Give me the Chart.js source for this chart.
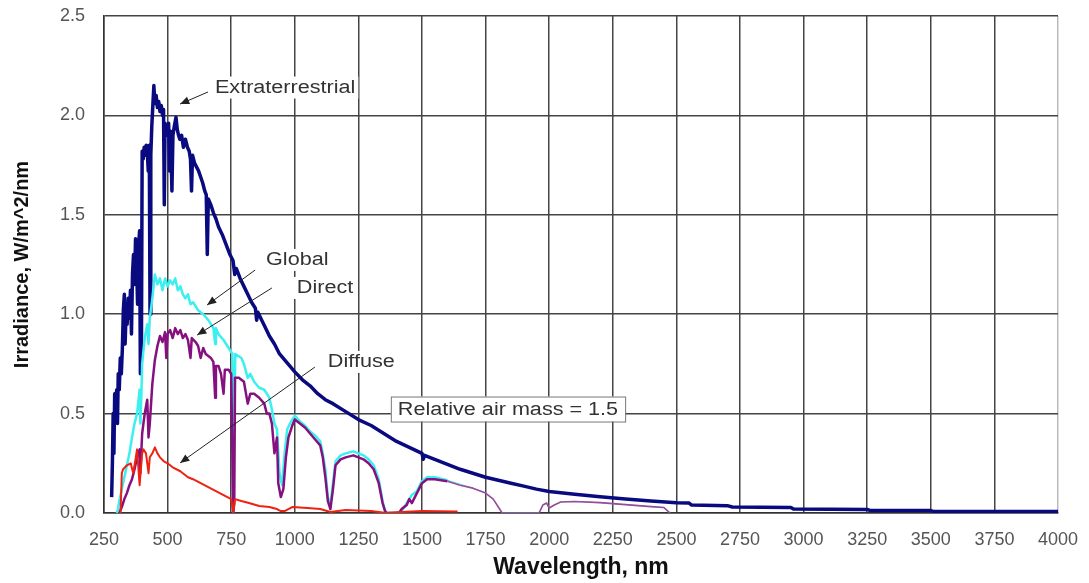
<!DOCTYPE html>
<html>
<head>
<meta charset="utf-8">
<title>Solar spectral irradiance</title>
<script src="https://cdn.jsdelivr.net/npm/chart.js@4.4.0/dist/chart.umd.min.js"></script>
<style>
  html, body { margin: 0; padding: 0; background: #fff; }
</style>
</head>
<body>
<canvas id="spectrumChart" width="1089" height="583"></canvas>
<script>
// [wavelength nm, irradiance W/m^2/nm]
var extraterrestrial = [
    [280,0.08],[283,0.25],[286,0.5],[289,0.3],[292,0.6],[296,0.55],[300,0.62],[303,0.45],[306,0.7],[310,0.62],
    [314,0.78],[318,0.7],[322,0.82],[326,1.02],[330,1.1],[333,0.85],[337,1.02],[341,0.95],[345,1.08],[350,0.98],
    [354,1.12],[358,0.9],[362,1.2],[366,1.3],[370,1.15],[374,1.38],[378,1.25],[382,1.05],[386,1.35],[390,1.42],
    [393,0.7],[396,1.3],[397,0.78],[400,1.82],[404,1.78],[408,1.84],[412,1.8],[416,1.85],[420,1.82],[424,1.72],
    [428,1.85],[431,1.0],[434,1.8],[438,1.95],[442,2.05],[446,2.15],[450,2.06],[455,2.1],[460,2.04],[465,2.07],
    [470,2.02],[475,2.05],[480,2.0],[484,2.03],[487,1.55],[490,1.96],[495,1.93],[500,1.9],[504,1.96],[508,1.72],
    [512,1.92],[517,1.62],[521,1.9],[527,1.95],[533,1.99],[538,1.93],[543,1.9],[548,1.88],[555,1.9],[562,1.84],
    [570,1.88],[578,1.84],[585,1.82],[590,1.78],[594,1.62],[598,1.8],[606,1.76],[614,1.74],[622,1.72],[630,1.69],
    [638,1.66],[646,1.62],[652,1.6],[656,1.3],[660,1.58],[670,1.55],[680,1.51],[690,1.48],[700,1.44],[715,1.4],
    [730,1.35],[745,1.3],[757,1.27],[764,1.2],[770,1.23],[785,1.18],[800,1.14],[815,1.1],[830,1.06],[845,1.03],
    [850,0.97],[855,1.01],[870,0.97],[885,0.93],[900,0.89],[920,0.85],[940,0.8],[960,0.77],[980,0.74],[1000,0.71],
    [1030,0.67],[1060,0.64],[1090,0.6],[1120,0.57],[1150,0.55],[1200,0.51],[1250,0.47],[1300,0.44],[1350,0.4],
    [1400,0.36],[1450,0.33],[1500,0.3],[1505,0.27],[1510,0.29],[1550,0.27],[1600,0.245],[1650,0.22],[1700,0.2],
    [1750,0.18],[1800,0.165],[1850,0.15],[1900,0.135],[1950,0.12],[2000,0.108],[2100,0.094],[2200,0.082],
    [2300,0.07],[2400,0.06],[2500,0.052],[2550,0.05],[2560,0.04],[2700,0.037],[2720,0.03],[2950,0.028],
    [2960,0.02],[3250,0.018],[3260,0.013],[3500,0.012],[3510,0.008],[4000,0.008]
];

var globalAM15 = [
    [300,0],[305,0.02],[310,0.06],[320,0.12],[330,0.18],[340,0.24],[350,0.3],[360,0.38],[370,0.45],[380,0.5],
    [390,0.62],[393,0.45],[397,0.6],[400,0.75],[410,0.88],[420,0.95],[425,0.85],[430,0.98],[440,1.08],[450,1.2],
    [460,1.15],[470,1.18],[480,1.12],[490,1.18],[500,1.14],[510,1.17],[520,1.15],[530,1.18],[540,1.12],[550,1.14],
    [560,1.1],[570,1.08],[580,1.1],[590,1.05],[600,1.06],[620,1.02],[640,1.0],[660,0.97],[680,0.93],[687,0.85],
    [690,0.93],[700,0.9],[720,0.87],[740,0.83],[755,0.8],[760,0.25],[766,0.8],[790,0.78],[800,0.75],[815,0.68],
    [825,0.7],[840,0.66],[860,0.63],[880,0.62],[900,0.58],[910,0.52],[920,0.45],[930,0.42],[940,0.2],[950,0.14],
    [960,0.3],[970,0.42],[985,0.46],[1000,0.49],[1020,0.46],[1040,0.44],[1060,0.41],[1080,0.39],[1100,0.36],
    [1110,0.3],[1120,0.22],[1130,0.08],[1140,0.04],[1150,0.15],[1160,0.26],[1180,0.29],[1200,0.3],[1230,0.31],
    [1250,0.3],[1270,0.29],[1290,0.27],[1310,0.24],[1330,0.17],[1345,0.06],[1355,0.01],[1360,0],[1400,0],
    [1420,0.01],[1440,0.05],[1460,0.09],[1480,0.11],[1500,0.16],[1520,0.18],[1550,0.18],[1600,0.165],[1650,0.145],
    [1700,0.125],[1750,0.1],[1780,0.07],[1800,0.03],[1815,0],[1960,0],[1975,0.04],[1990,0.05],[2000,0.025],
    [2020,0.04],[2045,0.055],[2100,0.058],[2200,0.052],[2300,0.042],[2400,0.032],[2450,0.028],[2475,0]
];

var directAM15 = [
    [310,0],[320,0.03],[330,0.07],[340,0.1],[350,0.14],[360,0.17],[370,0.22],[380,0.28],[390,0.32],[393,0.2],
    [400,0.4],[410,0.5],[420,0.57],[425,0.38],[430,0.45],[440,0.65],[450,0.77],[460,0.84],[470,0.89],[480,0.86],
    [490,0.91],[495,0.78],[500,0.9],[510,0.92],[520,0.88],[530,0.93],[540,0.9],[550,0.92],[560,0.88],[570,0.9],
    [580,0.87],[590,0.78],[595,0.88],[610,0.86],[620,0.84],[630,0.78],[640,0.83],[650,0.8],[660,0.79],[670,0.78],
    [680,0.76],[687,0.58],[690,0.74],[700,0.74],[710,0.7],[720,0.6],[725,0.72],[740,0.72],[750,0.7],[758,0],
    [762,0.05],[765,0.68],[780,0.68],[800,0.66],[815,0.55],[825,0.6],[840,0.6],[860,0.58],[880,0.55],[890,0.5],
    [900,0.5],[910,0.45],[920,0.3],[930,0.38],[935,0.15],[945,0.08],[955,0.12],[965,0.28],[975,0.38],[990,0.44],
    [1000,0.47],[1020,0.45],[1040,0.43],[1060,0.4],[1080,0.37],[1100,0.34],[1110,0.28],[1120,0.18],[1130,0.06],
    [1140,0.02],[1150,0.12],[1160,0.24],[1180,0.27],[1200,0.28],[1230,0.29],[1250,0.28],[1270,0.27],[1290,0.25],
    [1310,0.22],[1330,0.15],[1345,0.05],[1355,0.01],[1360,0],[1410,0],[1420,0.02],[1440,0.04],[1450,0.07],
    [1460,0.05],[1480,0.1],[1500,0.15],[1520,0.17],[1550,0.17],[1600,0.16],[1650,0.14],[1700,0.125],[1750,0.1],
    [1780,0.07],[1800,0.03],[1815,0],[1960,0],[1975,0.04],[1990,0.05],[2000,0.025],[2020,0.04],[2045,0.055],
    [2100,0.058],[2200,0.052],[2300,0.042],[2400,0.032],[2450,0.028],[2475,0]
];

var diffuseAM15 = [
    [315,0],[320,0.2],[325,0.22],[340,0.24],[355,0.25],[365,0.2],[375,0.28],[380,0.32],[390,0.14],[395,0.22],
    [400,0.3],[405,0.32],[415,0.3],[425,0.2],[430,0.28],[440,0.3],[450,0.33],[460,0.3],[470,0.28],[485,0.26],
    [500,0.25],[520,0.23],[550,0.21],[580,0.18],[600,0.17],[630,0.15],[660,0.13],[690,0.11],[720,0.09],
    [750,0.07],[758,0],[765,0.07],[790,0.06],[820,0.05],[860,0.035],[900,0.03],[930,0.02],[945,0.01],[960,0.01],
    [990,0.03],[1050,0.025],[1100,0.02],[1140,0.005],[1200,0.015],[1300,0.01],[1360,0],[1420,0.005],[1500,0.01],
    [1640,0.008]
];

var xTicks = [250, 500, 750, 1000, 1250, 1500, 1750, 2000, 2250, 2500, 2750, 3000, 3250, 3500, 3750, 4000];
var yTicks = [0, 0.5, 1.0, 1.5, 2.0, 2.5];

// callout text (left edge, middle) and arrow tail/head, in data units
var callouts = [
    { text: 'Extraterrestrial', x: 686, y: 2.14, from: [659, 2.118], to: [549, 2.057] },
    { text: 'Global', x: 887, y: 1.273, from: [844, 1.222], to: [655, 1.046] },
    { text: 'Direct', x: 1008, y: 1.132, from: [910, 1.132], to: [616, 0.895] },
    { text: 'Diffuse', x: 1130, y: 0.76, from: [1079, 0.734], to: [549, 0.252] }
];
var airMassNote = { text: 'Relative air mass = 1.5', x: 1405, y: 0.523 };

var FONT = '"Liberation Sans", Arial, Helvetica, sans-serif';

function toPoints(pairs) {
    return pairs.map(function(p) { return { x: p[0], y: p[1] }; });
}

// the source image is stretched sideways, so text is widened a bit
function wideText(ctx, text, x, y, sx) {
    ctx.save();
    ctx.translate(x, y);
    ctx.scale(sx, 1);
    ctx.fillText(text, 0, 0);
    ctx.restore();
}

var calloutPlugin = {
    id: 'callouts',
    afterDatasetsDraw: function(chart) {
        var ctx = chart.ctx;
        var xs = chart.scales.x, ys = chart.scales.y;
        var sx = 1.2;
        ctx.save();
        ctx.font = '18px ' + FONT;
        ctx.textBaseline = 'middle';
        ctx.textAlign = 'left';

        callouts.forEach(function(c) {
            var tx = xs.getPixelForValue(c.x), ty = ys.getPixelForValue(c.y);
            var w = ctx.measureText(c.text).width * sx;
            ctx.fillStyle = '#fff';
            ctx.fillRect(tx - 3, ty - 11, w + 6, 22);

            var x1 = xs.getPixelForValue(c.from[0]), y1 = ys.getPixelForValue(c.from[1]);
            var x2 = xs.getPixelForValue(c.to[0]), y2 = ys.getPixelForValue(c.to[1]);
            ctx.strokeStyle = '#222';
            ctx.lineWidth = 1;
            ctx.beginPath();
            ctx.moveTo(x1, y1);
            ctx.lineTo(x2, y2);
            ctx.stroke();
            var a = Math.atan2(y2 - y1, x2 - x1);
            ctx.fillStyle = '#222';
            ctx.beginPath();
            ctx.moveTo(x2, y2);
            ctx.lineTo(x2 - 10 * Math.cos(a - 0.4), y2 - 10 * Math.sin(a - 0.4));
            ctx.lineTo(x2 - 10 * Math.cos(a + 0.4), y2 - 10 * Math.sin(a + 0.4));
            ctx.closePath();
            ctx.fill();

            ctx.fillStyle = '#333';
            wideText(ctx, c.text, tx, ty, sx);
        });

        // boxed note
        var nx = xs.getPixelForValue(airMassNote.x), ny = ys.getPixelForValue(airMassNote.y);
        var nw = ctx.measureText(airMassNote.text).width * sx;
        ctx.fillStyle = '#fff';
        ctx.fillRect(nx - 7, ny - 12.5, nw + 14, 25);
        ctx.strokeStyle = '#777';
        ctx.lineWidth = 1;
        ctx.strokeRect(nx - 7 + 0.5, ny - 12.5 + 0.5, nw + 14, 25);
        ctx.fillStyle = '#333';
        wideText(ctx, airMassNote.text, nx, ny + 1, sx);

        ctx.restore();
    }
};

// beyond ~1600 nm the source draws the ground-level curves thinner and paler
function farIR(width) {
    return function(c) { return c.p0.parsed.x >= 1600 ? width : undefined; };
}

var ctx = document.getElementById('spectrumChart').getContext('2d');
var spectrumChart = new Chart(ctx, {
    type: 'line',
    data: {
        datasets: [
            {
                label: 'Diffuse',
                data: toPoints(diffuseAM15),
                borderColor: '#ee2211',
                borderWidth: 2
            },
            {
                label: 'Direct',
                data: toPoints(directAM15),
                borderColor: '#85107f',
                borderWidth: 2.5,
                segment: {
                    borderWidth: farIR(1.6),
                    borderColor: function(c) { return c.p0.parsed.x >= 1600 ? '#9a4a9a' : undefined; }
                }
            },
            {
                label: 'Global',
                data: toPoints(globalAM15),
                borderColor: '#3cf0f0',
                borderWidth: 2.5,
                segment: { borderWidth: farIR(1) }
            },
            {
                label: 'Extraterrestrial',
                data: toPoints(extraterrestrial),
                borderColor: '#0a0a80',
                borderWidth: 3.5
            }
        ]
    },
    options: {
        responsive: false,
        animation: false,
        layout: { padding: { top: 16, right: 31, left: 0, bottom: 0 } },
        elements: {
            point: { radius: 0 },
            line: { tension: 0, fill: false, borderJoinStyle: 'round' }
        },
        plugins: {
            legend: { display: false },
            tooltip: { enabled: false }
        },
        scales: {
            x: {
                type: 'linear',
                min: 250,
                max: 4000,
                afterBuildTicks: function(scale) {
                    scale.ticks = xTicks.map(function(v) { return { value: v }; });
                },
                afterFit: function(scale) {
                    scale.height = 70;
                    scale.paddingLeft = 0;
                    scale.paddingRight = 0;
                },
                ticks: {
                    font: { family: FONT, size: 18 },
                    color: '#555',
                    padding: 16,
                    maxRotation: 0,
                    autoSkip: false,
                    callback: function(v) { return String(v); }
                },
                grid: {
                    color: function(c) { return c.tick && c.tick.value === 4000 ? '#bbb' : '#444'; },
                    lineWidth: 1.5,
                    drawTicks: false
                },
                border: { color: '#333', width: 1.5 },
                title: {
                    display: true,
                    text: 'Wavelength, nm',
                    font: { family: FONT, size: 23, weight: 'bold' },
                    color: '#111',
                    padding: { top: 0, bottom: 2 }
                }
            },
            y: {
                min: 0,
                max: 2.5,
                afterBuildTicks: function(scale) {
                    scale.ticks = yTicks.map(function(v) { return { value: v }; });
                },
                afterFit: function(scale) {
                    scale.width = 104;
                    scale.paddingTop = 0;
                    scale.paddingBottom = 0;
                },
                ticks: {
                    font: { family: FONT, size: 18 },
                    color: '#555',
                    padding: 19,
                    callback: function(v) { return Number(v).toFixed(1); }
                },
                grid: { color: '#444', lineWidth: 1.5, drawTicks: false },
                border: { color: '#333', width: 1.5 },
                title: {
                    display: true,
                    text: 'Irradiance, W/m^2/nm',
                    font: { family: FONT, size: 20, weight: 'bold' },
                    color: '#111',
                    padding: { top: 10, bottom: 0 }
                }
            }
        }
    },
    plugins: [calloutPlugin]
});
</script>
</body>
</html>
